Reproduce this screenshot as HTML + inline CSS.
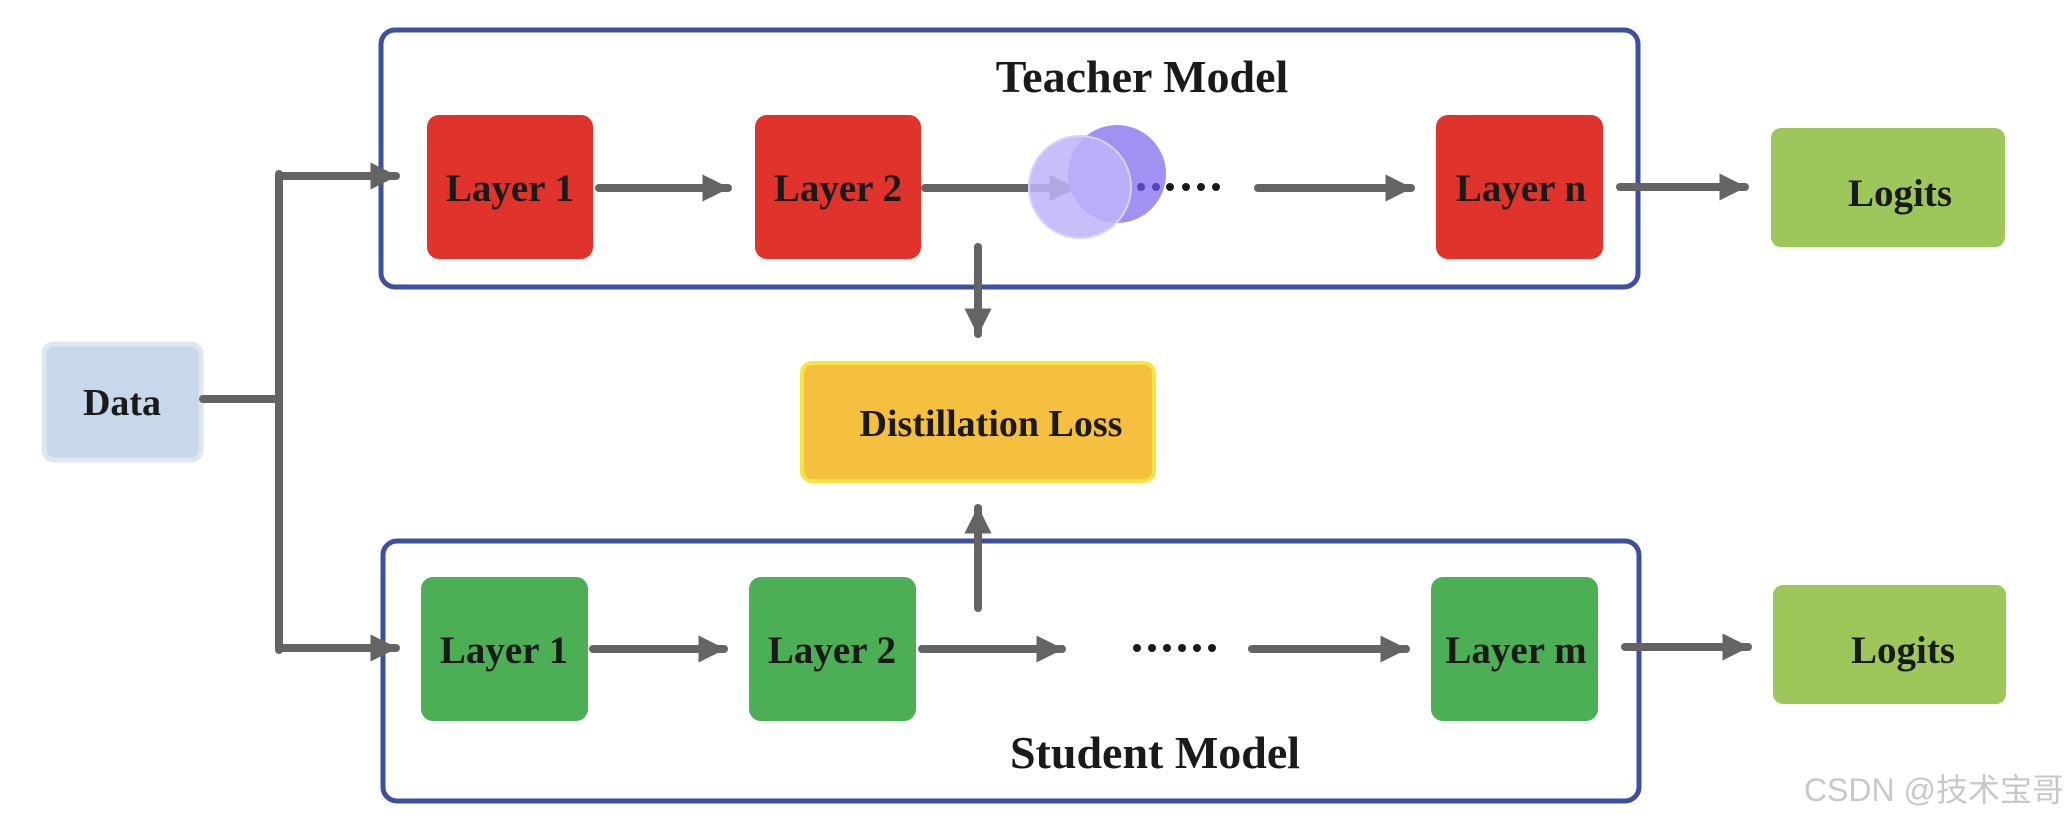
<!DOCTYPE html>
<html><head><meta charset="utf-8"><style>
html,body{margin:0;padding:0;background:#fff;}
svg{display:block}
text{font-family:"Liberation Serif",serif;font-weight:bold;fill:#1a1a1a;}
</style></head><body>
<svg width="2072" height="822" viewBox="0 0 2072 822" xmlns="http://www.w3.org/2000/svg">
<defs>
<marker id="ah" markerWidth="4" markerHeight="4" refX="3.2" refY="2" orient="auto" markerUnits="strokeWidth">
<path d="M0,0.3 L3.4,2 L0,3.7 Z" fill="#646464"/>
</marker>
</defs>
<!-- boxes -->
<rect x="381" y="30" width="1257" height="257" rx="14" fill="none" stroke="#3d4f9e" stroke-width="5"/>
<rect x="383" y="541" width="1256" height="260" rx="14" fill="none" stroke="#3d4f9e" stroke-width="5"/>
<text x="1142" y="92" font-size="46" text-anchor="middle">Teacher Model</text>
<text x="1155" y="768" font-size="46" text-anchor="middle">Student Model</text>

<!-- Data -->
<rect x="44" y="344" width="157" height="116" rx="10" fill="#c7d8ea" stroke="#dde7f2" stroke-width="5"/>
<text x="122" y="415" font-size="38" text-anchor="middle">Data</text>

<g stroke="#646464" stroke-width="8" fill="none" stroke-linecap="round">
<path d="M203,399 L279,399"/>
<path d="M279,174 L279,650"/>
<path d="M279,176 L396,176" marker-end="url(#ah)"/>
<path d="M279,648 L396,648" marker-end="url(#ah)"/>
<!-- teacher arrows -->
<path d="M599,188 L728,188" marker-end="url(#ah)"/>
<path d="M925,188 L1075,188" marker-end="url(#ah)"/>
<path d="M1258,188 L1411,188" marker-end="url(#ah)"/>
<path d="M1620,187 L1745,187" marker-end="url(#ah)"/>
<!-- student arrows -->
<path d="M593,649 L724,649" marker-end="url(#ah)"/>
<path d="M922,649 L1062,649" marker-end="url(#ah)"/>
<path d="M1252,649 L1406,649" marker-end="url(#ah)"/>
<path d="M1625,647 L1748,647" marker-end="url(#ah)"/>
<!-- distillation -->
<path d="M978,247 L978,334" marker-end="url(#ah)"/>
<path d="M978,608 L978,508" marker-end="url(#ah)"/>
</g>

<!-- circles -->
<circle cx="1117" cy="174" r="49" fill="#a191f2"/>
<circle cx="1080" cy="187" r="51" fill="#bdb3f9" fill-opacity="0.85" stroke="#d8d2fb" stroke-width="2"/>
<g fill="#5a40c0"><circle cx="1141" cy="187" r="4"/><circle cx="1156" cy="187" r="4"/></g>
<g fill="#1a1a1a"><circle cx="1170" cy="187" r="4"/><circle cx="1186" cy="187" r="4"/><circle cx="1201" cy="187" r="4"/><circle cx="1216" cy="187" r="4"/></g>
<g fill="#1a1a1a"><circle cx="1137" cy="648" r="4"/><circle cx="1152" cy="648" r="4"/><circle cx="1167" cy="648" r="4"/><circle cx="1182" cy="648" r="4"/><circle cx="1197" cy="648" r="4"/><circle cx="1212" cy="648" r="4"/></g>

<!-- teacher layers -->
<rect x="427" y="115" width="166" height="144" rx="12" fill="#e0332c"/>
<rect x="755" y="115" width="166" height="144" rx="12" fill="#e0332c"/>
<rect x="1436" y="115" width="167" height="144" rx="12" fill="#e0332c"/>
<text x="510" y="201" font-size="39" text-anchor="middle">Layer 1</text>
<text x="838" y="201" font-size="39" text-anchor="middle">Layer 2</text>
<text x="1521" y="201" font-size="39" text-anchor="middle">Layer n</text>

<!-- student layers -->
<rect x="421" y="577" width="167" height="144" rx="12" fill="#4caf55"/>
<rect x="749" y="577" width="167" height="144" rx="12" fill="#4caf55"/>
<rect x="1431" y="577" width="167" height="144" rx="12" fill="#4caf55"/>
<text x="504" y="663" font-size="39" text-anchor="middle">Layer 1</text>
<text x="832" y="663" font-size="39" text-anchor="middle">Layer 2</text>
<text x="1516" y="663" font-size="39" text-anchor="middle">Layer m</text>

<!-- logits -->
<rect x="1771" y="128" width="234" height="119" rx="10" fill="#9dc75b"/>
<rect x="1773" y="585" width="233" height="119" rx="10" fill="#9dc75b"/>
<text x="1900" y="206" font-size="39" text-anchor="middle">Logits</text>
<text x="1903" y="663" font-size="39" text-anchor="middle">Logits</text>

<!-- distillation loss -->
<rect x="802" y="363" width="352" height="118" rx="10" fill="#f5c03f" stroke="#f4e640" stroke-width="4"/>
<text x="991" y="436" font-size="38" text-anchor="middle">Distillation Loss</text>

<text x="2064" y="801" font-size="32" text-anchor="end" style="font-family:'Liberation Sans','Noto Sans CJK SC',sans-serif;font-weight:normal;fill:#c8c8c8">CSDN @技术宝哥</text>
</svg>
</body></html>
